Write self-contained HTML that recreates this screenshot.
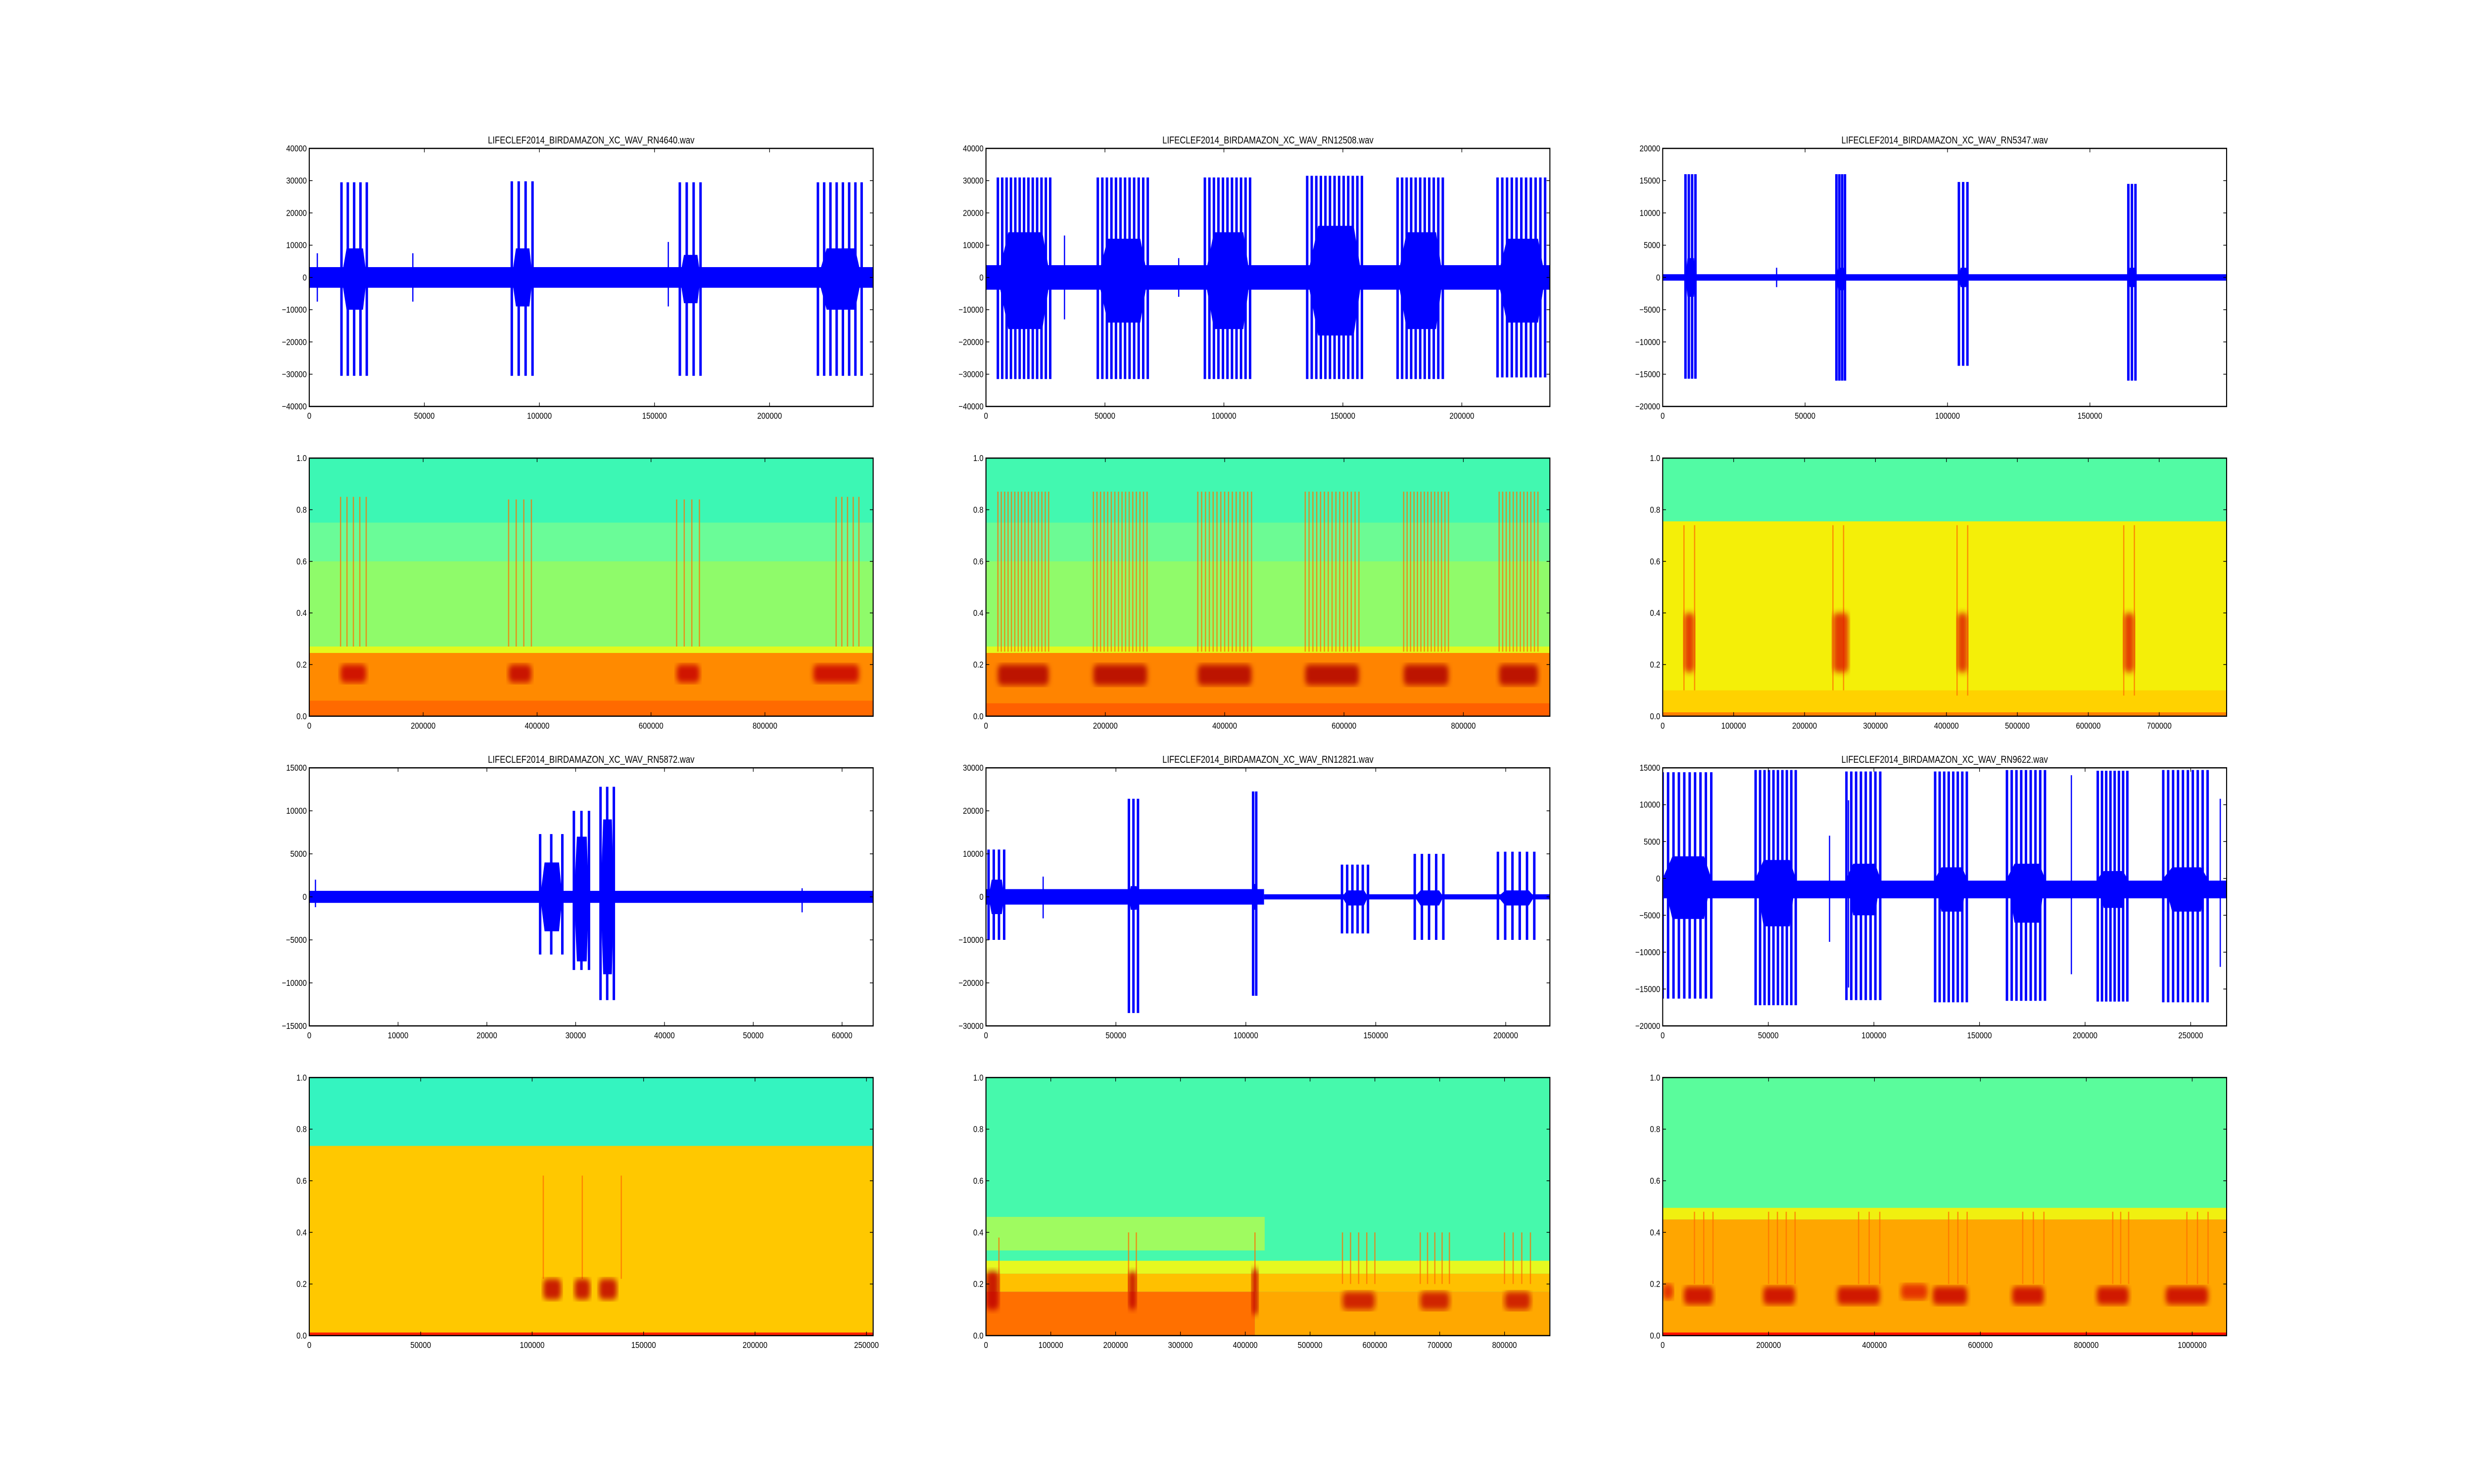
<!DOCTYPE html>
<html><head><meta charset="utf-8"><style>
html,body{margin:0;padding:0;background:#fff;overflow:hidden;width:100vw;height:100vh;}
svg{display:block;font-family:"Liberation Sans",sans-serif;width:100vw;height:100vh;}
</style></head><body>
<svg id="fig" viewBox="0 0 6000 3000" preserveAspectRatio="none" xmlns="http://www.w3.org/2000/svg">
<defs>
<filter id="blur6"><feGaussianBlur stdDeviation="6"/></filter>
</defs>
</svg>
<script>
// ---------- waveform data (sample index, amplitude) ----------
const wfTitles = ["LIFECLEF2014_BIRDAMAZON_XC_WAV_RN4640.wav","LIFECLEF2014_BIRDAMAZON_XC_WAV_RN12508.wav","LIFECLEF2014_BIRDAMAZON_XC_WAV_RN5347.wav","LIFECLEF2014_BIRDAMAZON_XC_WAV_RN5872.wav","LIFECLEF2014_BIRDAMAZON_XC_WAV_RN12821.wav","LIFECLEF2014_BIRDAMAZON_XC_WAV_RN9622.wav"];
const wfXMax = [245000,237000,198000,63500,217000,267000];
const wfYMin = [-40000,-40000,-20000,-15000,-30000,-20000];
const wfYMax = [40000,40000,20000,15000,30000,15000];
const wfXTicks = [[0,50000,100000,150000,200000],[0,50000,100000,150000,200000],[0,50000,100000,150000],[0,10000,20000,30000,40000,50000,60000],[0,50000,100000,150000,200000],[0,50000,100000,150000,200000,250000]];
const wfYTicks = [[-40000,-30000,-20000,-10000,0,10000,20000,30000,40000],[-40000,-30000,-20000,-10000,0,10000,20000,30000,40000],[-20000,-15000,-10000,-5000,0,5000,10000,15000,20000],[-15000,-10000,-5000,0,5000,10000,15000],[-30000,-20000,-10000,0,10000,20000,30000],[-20000,-15000,-10000,-5000,0,5000,10000,15000]];
// noise floor segments: [x0, x1, lo, hi]
const wfNoise = [
 [[0,245000,-3200,3200]],
 [[0,237000,-3800,3800]],
 [[0,198000,-500,500]],
 [[0,63500,-700,700]],
 [[0,107000,-1800,1800],[107000,217000,-600,600]],
 [[0,267000,-2700,-300]]
];
// bursts: [x0, x1, spikeHi, spikeLo, coreHi, coreLo, spikeCount]
const wfBursts = [
 [[14000,25000,29500,-30500,9000,-10000,5],[88000,97000,29800,-30500,9000,-9000,4],[161000,170000,29500,-30500,7000,-8000,4],[221000,240000,29500,-30500,9000,-10000,8]],
 [[5000,27000,31000,-31500,14000,-16000,13],[47000,68000,31000,-31500,12000,-14000,12],[92000,111000,31000,-31500,14000,-16000,11],[135000,158000,31500,-31500,16000,-18000,13],[173000,192000,31000,-31500,14000,-16000,11],[215000,235000,31000,-31000,12000,-14000,11]],
 [[8000,11500,16000,-15700,3000,-3000,4],[61000,64000,16000,-16000,1500,-2000,4],[104000,107000,14800,-13700,1500,-1500,3],[163500,166000,14500,-16000,1500,-1500,3]],
 [[26000,28500,7300,-6700,4000,-4000,3],[29800,31500,10000,-8500,7000,-7500,3],[32800,34300,12800,-12000,9000,-9000,3]],
 [[1000,7000,11000,-10000,4000,-4000,4],[55000,58500,22800,-27000,2500,-3000,3],[102800,104000,24500,-23000,3000,-3000,2],[137000,147000,7500,-8500,1500,-2000,6],[165000,176000,10000,-10000,1500,-2000,5],[197000,211000,10500,-10000,1500,-2000,6]],
 [[0,23000,14400,-16300,3000,-5500,10],[44000,63000,14700,-17200,2500,-6500,10],[87000,103000,14500,-16500,2000,-5000,8],[129000,144000,14500,-16800,1500,-4500,8],[163000,181000,14700,-16600,2000,-6000,9],[206000,220000,14600,-16700,1000,-4000,8],[237000,258000,14700,-16800,1500,-4500,10]]
];
// isolated spikes: [x, hi, lo]
const wfSpikes = [
 [[156000,11000,-9000],[3500,7500,-7500],[45000,7500,-7500]],
 [[33000,13000,-13000],[81000,6000,-6000]],
 [[40000,1500,-1500]],
 [[700,2000,-1200],[55500,1000,-1800]],
 [[22000,4700,-5000]],
 [[264000,10800,-12000],[193500,14000,-13000],[79000,5800,-8600],[88000,10600,-14800]]
];

// ---------- spectrogram data (sample index, normalized frequency) ----------
const spXMax = [990000,945000,795000,253000,870000,1065000];
const spXTicks = [[0,200000,400000,600000,800000],[0,200000,400000,600000,800000],[0,100000,200000,300000,400000,500000,600000,700000],[0,50000,100000,150000,200000,250000],[0,100000,200000,300000,400000,500000,600000,700000,800000],[0,200000,400000,600000,800000,1000000]];
const spYTicks = [0.0,0.2,0.4,0.6,0.8,1.0];
// background bands: [x0, x1, fLo, fHi, colour]
const spBands = [
 [[0,990000,0,1,"#3cf7b4"],[0,990000,0.27,0.75,"#6afc98"],[0,990000,0.27,0.6,"#8ffb6a"],[0,990000,0.245,0.27,"#e4f81c"],[0,990000,0,0.245,"#ff8a00"],[0,990000,0,0.06,"#ff6a00"]],
 [[0,945000,0,1,"#42f8b0"],[0,945000,0.27,0.75,"#6cfb94"],[0,945000,0.27,0.6,"#90fb6a"],[0,945000,0.245,0.27,"#e4f81c"],[0,945000,0,0.245,"#ff8400"],[0,945000,0,0.05,"#ff6000"]],
 [[0,795000,0,1,"#52fba4"],[0,795000,0,0.755,"#f4ef08"],[0,795000,0,0.1,"#ffd200"],[0,795000,0,0.015,"#ff8000"]],
 [[0,253000,0,1,"#34f4c0"],[0,253000,0,0.735,"#ffc800"],[0,253000,0,0.012,"#ff2000"]],
 [[0,870000,0,1,"#46f9ac"],[0,430000,0.33,0.46,"#9ffb60"],[0,870000,0.24,0.29,"#e6f820"],[0,870000,0.17,0.24,"#ffc000"],[0,415000,0,0.17,"#ff7000"],[415000,870000,0,0.17,"#ffa800"]],
 [[0,1065000,0,1,"#5afc9c"],[0,1065000,0.45,0.495,"#f0f010"],[0,1065000,0,0.45,"#ffa600"],[0,1065000,0,0.012,"#ff1000"]]
];
// harmonic streaks: [x0, x1, fLo, fHi, count]
const spStreaks = [
 [[55000,100000,0.27,0.85,5],[350000,390000,0.27,0.84,4],[645000,685000,0.27,0.84,4],[925000,965000,0.27,0.85,5]],
 [[20000,105000,0.25,0.87,16],[180000,270000,0.25,0.87,16],[355000,445000,0.25,0.87,15],[535000,625000,0.25,0.87,15],[700000,775000,0.25,0.87,14],[860000,925000,0.25,0.87,12]],
 [[30000,45000,0.1,0.74,2],[240000,255000,0.1,0.74,2],[415000,430000,0.08,0.74,2],[650000,665000,0.08,0.74,2]],
 [[105000,140000,0.22,0.62,3]],
 [[0,20000,0.17,0.38,2],[220000,232000,0.17,0.4,2],[410000,420000,0.17,0.4,1],[550000,600000,0.2,0.4,5],[670000,715000,0.2,0.4,5],[800000,840000,0.2,0.4,4]],
 [[60000,95000,0.2,0.48,3],[200000,250000,0.2,0.48,4],[370000,410000,0.2,0.48,3],[540000,575000,0.2,0.48,3],[680000,720000,0.2,0.48,3],[850000,880000,0.2,0.48,3],[990000,1030000,0.2,0.48,3]]
];
// dark call blobs: [x0, x1, fLo, fHi, colour]
const spBlobs = [
 [[55000,100000,0.13,0.2,"#c80000"],[350000,390000,0.13,0.2,"#c00000"],[645000,685000,0.13,0.2,"#c80000"],[885000,965000,0.13,0.2,"#c80000"]],
 [[20000,105000,0.12,0.2,"#b00000"],[180000,270000,0.12,0.2,"#b00000"],[355000,445000,0.12,0.2,"#b00000"],[535000,625000,0.12,0.2,"#b00000"],[700000,775000,0.12,0.2,"#b00000"],[860000,925000,0.12,0.2,"#b00000"]],
 [[30000,45000,0.17,0.4,"#e02000"],[240000,262000,0.17,0.4,"#e02000"],[415000,430000,0.17,0.4,"#e02000"],[650000,665000,0.17,0.4,"#e02000"]],
 [[105000,113000,0.14,0.22,"#c00000"],[119000,126000,0.14,0.22,"#c00000"],[130000,138000,0.14,0.22,"#c00000"]],
 [[0,20000,0.1,0.25,"#c00000"],[220000,232000,0.1,0.25,"#c00000"],[410000,420000,0.08,0.26,"#c00000"],[550000,600000,0.1,0.17,"#c81000"],[670000,715000,0.1,0.17,"#c81000"],[800000,840000,0.1,0.17,"#c81000"]],
 [[0,20000,0.14,0.2,"#e02000"],[40000,95000,0.12,0.19,"#c80000"],[190000,250000,0.12,0.19,"#c80000"],[330000,410000,0.12,0.19,"#c80000"],[450000,500000,0.14,0.2,"#e02000"],[510000,575000,0.12,0.19,"#c80000"],[660000,720000,0.12,0.19,"#c80000"],[820000,880000,0.12,0.19,"#c80000"],[950000,1030000,0.12,0.19,"#c80000"]]
];

// ---------- layout ----------
const NS = "http://www.w3.org/2000/svg";
const svg = document.getElementById('fig');
const colLeft = [750, 2391.2, 4032.4], W = 1367.6;
const rowTop = [300, 926.1, 1552.2, 2178.3], H = 521.7;
const SPIKE_W = 6;
function mk(tag, attrs, parent){ const e = document.createElementNS(NS, tag); for (const k in attrs) e.setAttribute(k, attrs[k]); (parent||svg).appendChild(e); return e; }
function fmt(v){ if (v < 0) return "\u2212" + (-v); return String(v); }

function axesFrame(g, L, T, xTicks, xScale, yTicks, yScale, yFmt){
  mk('rect',{x:L,y:T,width:W,height:H,fill:'none',stroke:'#000','stroke-width':2.5}, g);
  xTicks.forEach(v=>{
    const x = xScale(v);
    const t = mk('line',{x1:x,x2:x,y1:T+H,y2:T+H-8,stroke:'#000','stroke-width':1.5}, g);
    
    
    mk('line',{x1:x,x2:x,y1:T,y2:T+8,stroke:'#000','stroke-width':1.5}, g);
    const lab = mk('text',{x:x,y:T+H+25,'font-size':18,'text-anchor':'middle',fill:'#000'}, g);
    lab.textContent = fmt(v);
    
    
  });
  yTicks.forEach(v=>{
    const y = yScale(v);
    mk('line',{x1:L,x2:L+8,y1:y,y2:y,stroke:'#000','stroke-width':1.5}, g);
    mk('line',{x1:L+W,x2:L+W-8,y1:y,y2:y,stroke:'#000','stroke-width':1.5}, g);
    const lab = mk('text',{x:L-6,y:y+6,'font-size':18,'text-anchor':'end',fill:'#000'}, g);
    lab.textContent = yFmt(v);
    
    
  });
}

function drawWave(i){
  const L = colLeft[i%3], T = rowTop[Math.floor(i/3)*2];
  const g = mk('g',{});
  
  
  const xm = wfXMax[i], y0 = wfYMin[i], y1 = wfYMax[i];
  const sx = v => L + v / xm * W;
  const sy = v => T + H * (y1 - v) / (y1 - y0);
  const cid = 'wclip'+i;
  const cp = mk('clipPath',{id:cid}, g); mk('rect',{x:L,y:T,width:W,height:H}, cp);
  const plot = mk('g',{'clip-path':'url(#'+cid+')'}, g);
  
  
  wfNoise[i].forEach(s=>{
    const r = mk('rect',{x:sx(s[0]),y:sy(s[3]),width:sx(s[1])-sx(s[0]),height:sy(s[2])-sy(s[3]),fill:'#0000ff'}, plot);
    
    
  });
  wfBursts[i].forEach(b=>{
    const xa = sx(b[0]), xb = sx(b[1]), r1 = xa+(xb-xa)*0.2, r2 = xb-(xb-xa)*0.15;
    const pts = [[xa,sy(0)],[r1,sy(b[4])],[r2,sy(b[4])],[xb,sy(0)],[r2,sy(b[5])],[r1,sy(b[5])]].map(p=>p.join(',')).join(' ');
    const r = mk('polygon',{points:pts,fill:'#0000ff'}, plot);
    
    
    const n = b[6];
    for (let k=0;k<n;k++){
      const xv = n>1 ? b[0] + (b[1]-b[0]) * k/(n-1) : (b[0]+b[1])/2;
      const ln = mk('line',{x1:sx(xv),x2:sx(xv),y1:sy(b[2]),y2:sy(b[3]),stroke:'#0000ff','stroke-width':SPIKE_W}, plot);
      
      
    }
  });
  wfSpikes[i].forEach(s=>{
    const ln = mk('line',{x1:sx(s[0]),x2:sx(s[0]),y1:sy(s[1]),y2:sy(s[2]),stroke:'#0000ff','stroke-width':3}, plot);
    
    
  });
  axesFrame(g, L, T, wfXTicks[i], sx, wfYTicks[i], sy, fmt);
  const tt = mk('text',{x:L+W/2,y:T-10,'font-size':20,'text-anchor':'middle',fill:'#000'}, g);
  tt.textContent = wfTitles[i];
  
  
}

function drawSpec(i){
  const L = colLeft[i%3], T = rowTop[Math.floor(i/3)*2+1];
  const g = mk('g',{});
  
  
  const xm = spXMax[i];
  const sx = v => L + v / xm * W;
  const sy = f => T + H * (1 - f);
  const cid = 'sclip'+i;
  const cp = mk('clipPath',{id:cid}, g); mk('rect',{x:L,y:T,width:W,height:H}, cp);
  const plot = mk('g',{'clip-path':'url(#'+cid+')'}, g);
  
  
  spBands[i].forEach(b=>{
    const r = mk('rect',{x:sx(b[0]),y:sy(b[3]),width:sx(b[1])-sx(b[0]),height:sy(b[2])-sy(b[3]),fill:b[4]}, plot);
    
    
  });
  spStreaks[i].forEach(s=>{
    const n = s[4];
    for (let k=0;k<n;k++){
      const xv = n>1 ? s[0] + (s[1]-s[0])*k/(n-1) : (s[0]+s[1])/2;
      const ln = mk('line',{x1:sx(xv),x2:sx(xv),y1:sy(s[3]),y2:sy(s[2]),stroke:'#ff7000','stroke-width':3,'stroke-opacity':0.75}, plot);
      
      
    }
  });
  spBlobs[i].forEach(b=>{
    const e = mk('rect',{x:sx(b[0]),y:sy(b[3]),width:Math.max(sx(b[1])-sx(b[0]),6),height:sy(b[2])-sy(b[3]),fill:b[4],rx:10,filter:'url(#blur6)','fill-opacity':0.85}, plot);
    
    
  });
  axesFrame(g, L, T, spXTicks[i], sx, spYTicks, sy, v=>v.toFixed(1));
}

for (let i=0;i<6;i++){ drawWave(i); drawSpec(i); }
</script>
</body></html>
